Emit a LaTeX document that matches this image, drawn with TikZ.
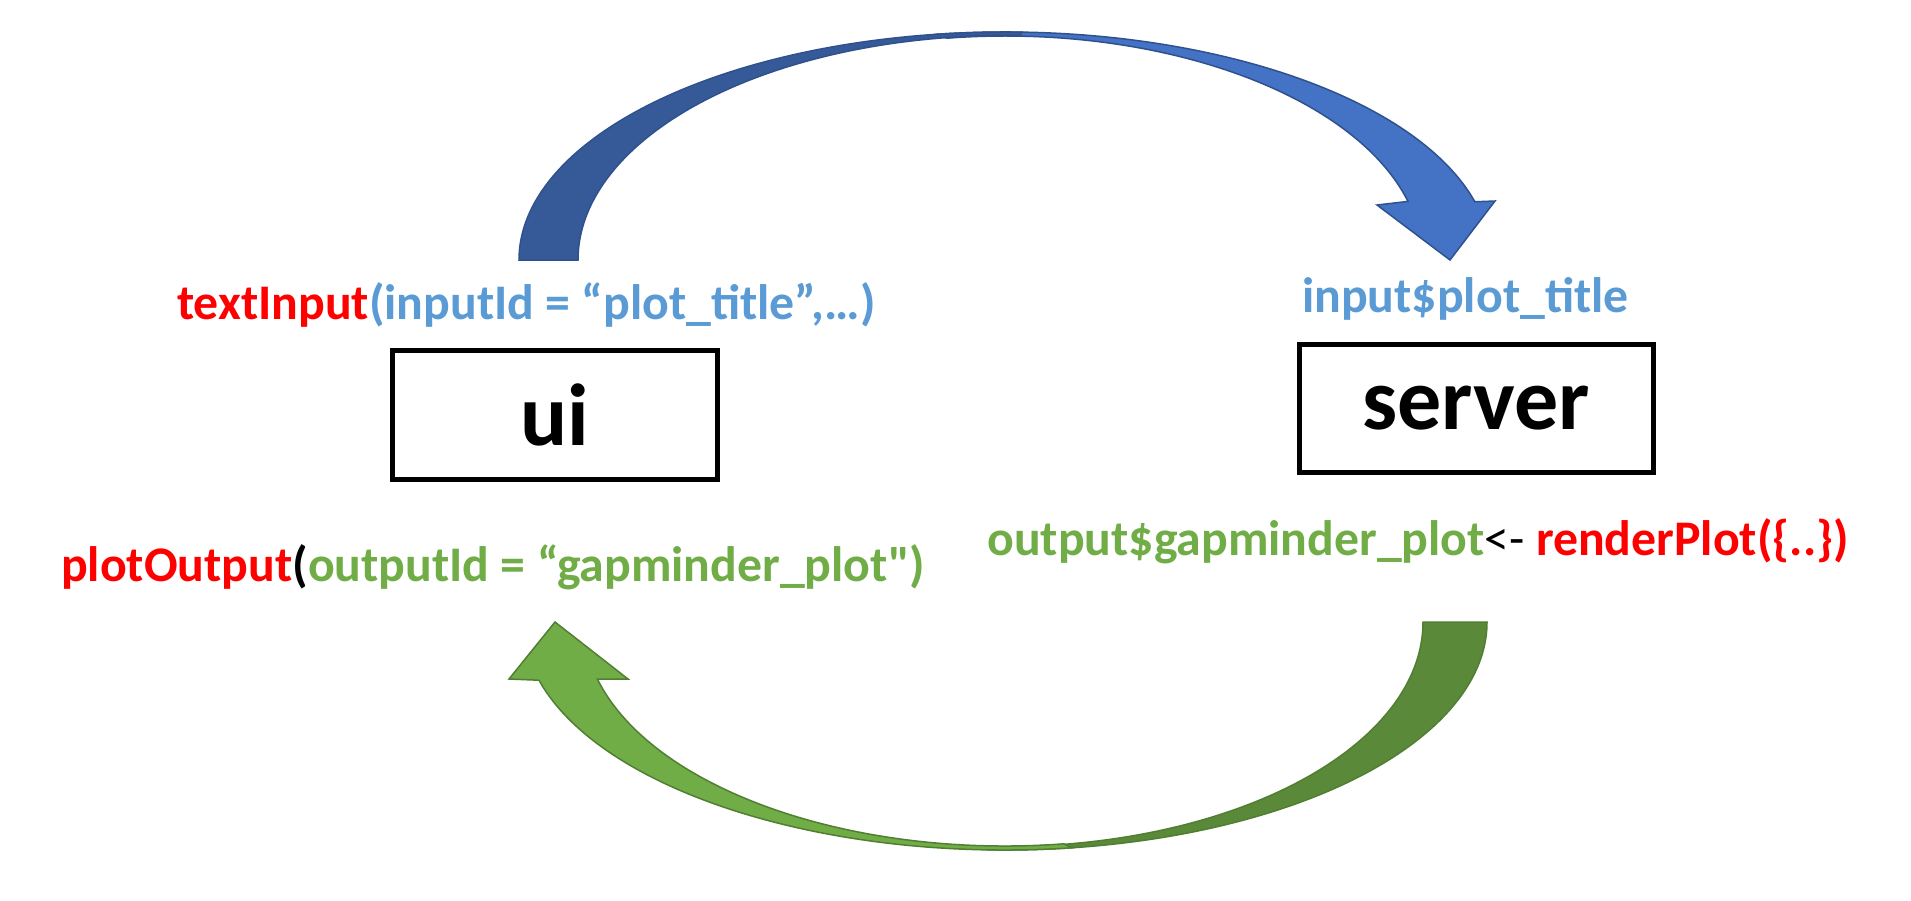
\documentclass[tikz,border=0pt]{standalone}
\usepackage{fontspec}
\setmainfont{Carlito}[Ligatures=TeXOff]
\definecolor{cred}{HTML}{FF0000}
\definecolor{cblue}{HTML}{5B9BD5}
\definecolor{cgreen}{HTML}{70AD47}
\definecolor{bluedark}{HTML}{355A97}
\definecolor{bluelight}{HTML}{4472C4}
\definecolor{blueline}{HTML}{2F528F}
\definecolor{greendark}{HTML}{5A8A39}
\definecolor{greenlight}{HTML}{70AD47}
\definecolor{greenline}{HTML}{507E32}
\begin{document}
\begin{tikzpicture}[x=1pt,y=-1pt,
  comp/.style={draw=black,line width=5pt,inner sep=0pt,font=\fontsize{88}{100}\selectfont\bfseries},
  code/.style={inner sep=0pt,font=\fontsize{49.8}{56}\selectfont\bfseries},
  bluearrow/.style={draw=blueline,line width=1.5pt,line join=miter},
  greenarrow/.style={draw=greenline,line width=1.5pt,line join=miter}]
\useasboundingbox (0,0) rectangle (1911,900);
\fill[white] (0,0) rectangle (1911,900);

% boxes
\node[comp,minimum width=325pt,minimum height=129pt] (ui) at (554.5,414.5) {ui};
\node[comp,minimum width=354pt,minimum height=128pt] (server) at (1476,408) {server};

% code labels
\node[code,anchor=base west] (tin) at (177,319)
  {\textcolor{cred}{textInput}\textcolor{cblue}{(inputId = “plot\_title”,…)}};
\node[code,anchor=base west,text=cblue] (inp) at (1302,312) {input\$plot\_title};
\node[code,anchor=base west] (pout) at (61,581)
  {\textcolor{cred}{plotOutput}\textcolor{black}{(}\textcolor{cgreen}{outputId = “gapminder\_plot")}};
\node[code,anchor=base west] (rend) at (987,555)
  {\textcolor{cgreen}{output\$gapminder\_plot}\textcolor{black}{\mdseries<- }\textcolor{cred}{renderPlot(\{..\})}};

% top blue arrow (ui -> server)
\path[bluearrow,fill=bluelight] (1005,260) ++(262:486 and 228)
  arc[start angle=262,end angle=345.2,x radius=486,y radius=228]
  -- (1495,201) -- (1450,260) -- (1377,205) -- (1408,201.4)
  arc[start angle=344.83,end angle=262,x radius=417.5,y radius=224] -- cycle;
\path[bluearrow,fill=bluedark] (519,260)
  arc[start angle=180,end angle=272,x radius=486,y radius=228]
  -- (1019.9,35.64)
  arc[start angle=272,end angle=180,x radius=427,y radius=224.5] -- cycle;

% bottom green arrow (server -> ui)
\path[greenarrow,fill=greendark] (1487,622)
  arc[start angle=0,end angle=92,x radius=482,y radius=228]
  -- (990.4,846.4)
  arc[start angle=92,end angle=0,x radius=418,y radius=224.5] -- cycle;
\path[greenarrow,fill=greenlight] (1005,622) ++(82:482 and 228)
  arc[start angle=82,end angle=165.2,x radius=482,y radius=228]
  -- (509,679) -- (555,622) -- (628,679) -- (597.4,679.1)
  arc[start angle=165.23,end angle=82,x radius=421.5,y radius=224] -- cycle;
\end{tikzpicture}
\end{document}
